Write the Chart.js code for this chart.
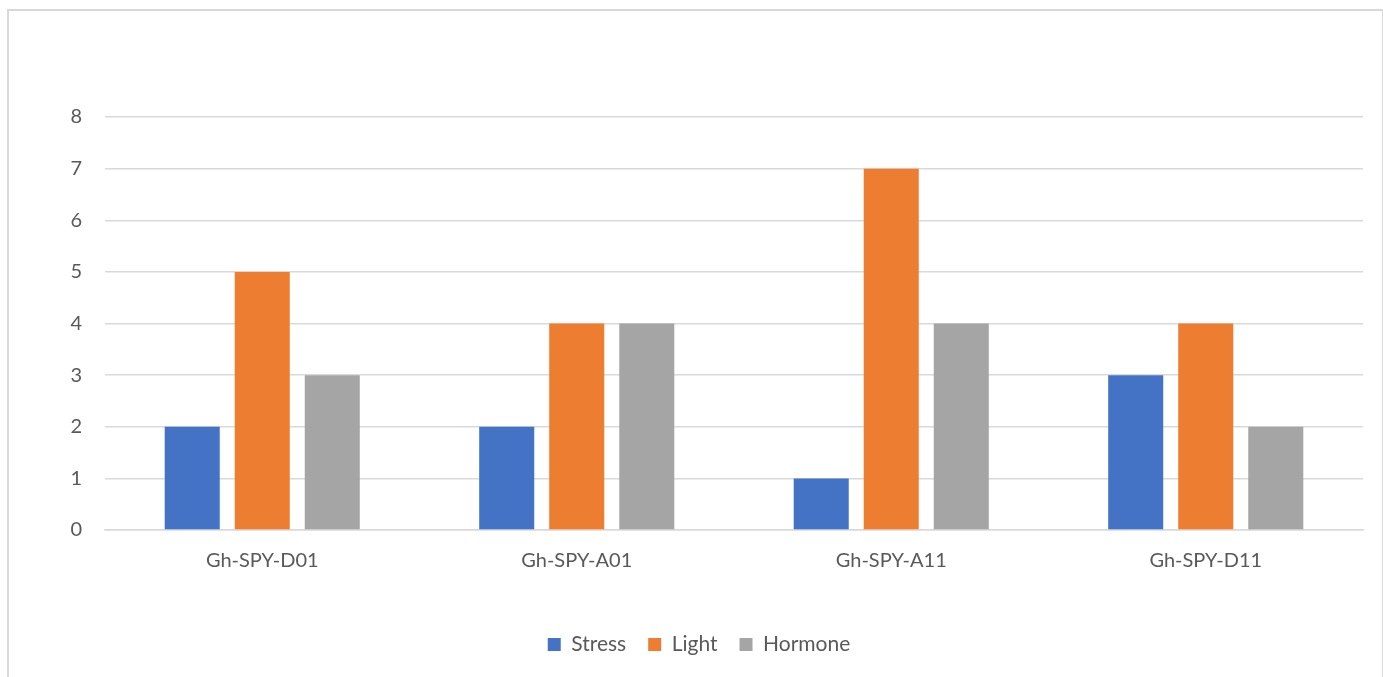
<!DOCTYPE html>
<html>
<head>
<meta charset="utf-8">
<script src="https://cdn.jsdelivr.net/npm/chart.js@4.4.0/dist/chart.umd.min.js"></script>
<style>
    html, body {
        margin: 0;
        padding: 0;
        background: #ffffff;
        overflow: hidden;
    }
    .frame {
        position: absolute;
        left: 7px;
        top: 9px;
        width: 1373px;
        height: 700px;
        border: 2px solid #d9d9d9;
    }
    .chart-box {
        position: absolute;
        left: 0;
        top: 0;
        width: 1383px;
        height: 677px;
    }
</style>
</head>
<body>
<div class="frame"></div>
<div class="chart-box">
    <canvas id="spyChart"></canvas>
</div>
<script>
// Gene names on the x axis
const genes = ['Gh-SPY-D01', 'Gh-SPY-A01', 'Gh-SPY-A11', 'Gh-SPY-D11'];

// Number of cis-elements per category
const stressCounts = [2, 2, 1, 3];
const lightCounts = [5, 4, 7, 4];
const hormoneCounts = [3, 4, 4, 2];

const yTicks = [0, 1, 2, 3, 4, 5, 6, 7, 8];

const labelFont = { family: 'Lato, "Open Sans", sans-serif', size: 20 };
const legendFont = { family: 'Lato, "Open Sans", sans-serif', size: 21 };
const textColor = '#595959';
const gridColor = '#d9d9d9';

document.addEventListener('DOMContentLoaded', function () {
    initializeChart();
});

/**
 * Build the grouped bar chart
 */
function initializeChart() {
    const canvas = document.getElementById('spyChart');
    if (!canvas || typeof Chart === 'undefined') {
        console.warn('Chart.js not loaded or canvas not found');
        return;
    }

    const barStyle = {
        categoryPercentage: 0.668,
        barPercentage: 0.786,
        borderWidth: 0
    };

    new Chart(canvas.getContext('2d'), {
        type: 'bar',
        data: {
            labels: genes,
            datasets: [
                Object.assign({ label: 'Stress', data: stressCounts, backgroundColor: '#4472c4' }, barStyle),
                Object.assign({ label: 'Light', data: lightCounts, backgroundColor: '#ed7d31' }, barStyle),
                Object.assign({ label: 'Hormone', data: hormoneCounts, backgroundColor: '#a5a5a5' }, barStyle)
            ]
        },
        options: {
            responsive: true,
            maintainAspectRatio: false,
            animation: false,
            layout: {
                padding: { left: 35, right: 20, top: 117, bottom: 12 }
            },
            plugins: {
                tooltip: { enabled: false },
                legend: {
                    display: true,
                    position: 'bottom',
                    labels: {
                        boxWidth: 13,
                        boxHeight: 13,
                        padding: 22,
                        color: textColor,
                        font: legendFont
                    }
                }
            },
            scales: {
                x: {
                    grid: { display: false },
                    border: { display: true, color: gridColor, width: 1.5 },
                    ticks: {
                        color: textColor,
                        font: labelFont,
                        padding: 11,
                        maxRotation: 0
                    },
                    afterFit: function (scale) {
                        scale.height = 82;
                    }
                },
                y: {
                    min: 0,
                    max: 8,
                    afterBuildTicks: function (scale) {
                        scale.ticks = yTicks.map(v => ({ value: v }));
                    },
                    grid: {
                        color: gridColor,
                        lineWidth: 1.5,
                        drawTicks: false
                    },
                    border: { display: false },
                    ticks: {
                        color: textColor,
                        font: labelFont,
                        padding: 23
                    },
                    afterFit: function (scale) {
                        scale.width = 70;
                    }
                }
            }
        }
    });
}
</script>
</body>
</html>
